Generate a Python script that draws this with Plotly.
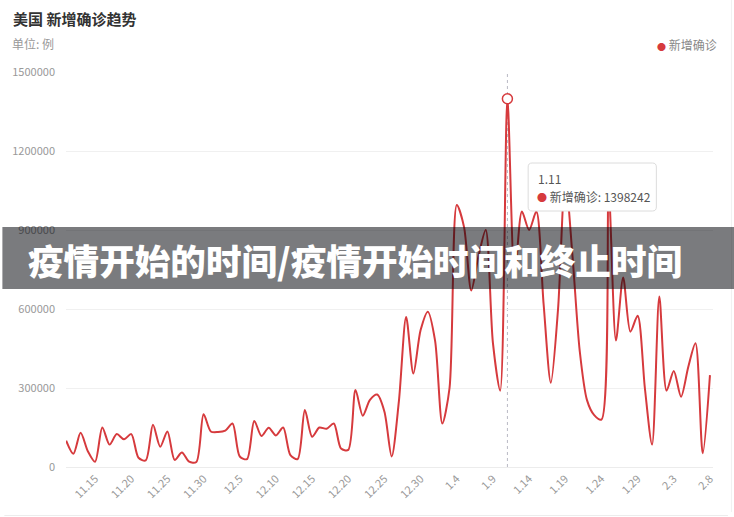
import pandas as pd
import plotly.graph_objects as go

# ---- data ----
dates = [f"{d.month}.{d.day}" for d in pd.date_range("2020-11-11", "2021-02-08", freq="D")]
new_cases = [
    100000, 50000, 130000, 60000, 20000, 150000, 85000, 125000, 105000, 125000,
    35000, 25000, 160000, 77000, 135000, 27000, 55000, 20000, 19000, 200000,
    135000, 133000, 138000, 165000, 40000, 30000, 175000, 118000, 149000, 120000,
    150000, 45000, 30000, 216000, 115000, 150000, 145000, 165000, 70000, 65000,
    292000, 195000, 255000, 275000, 210000, 40000, 250000, 570000, 355000, 520000,
    590000, 480000, 165000, 300000, 995000, 912000, 670000, 800000, 900000, 470000,
    290000, 1398242, 720000, 970000, 900000, 970000, 620000, 320000, 600000, 1100000,
    800000, 440000, 254000, 197000, 180000, 1050000, 480000, 720000, 514000, 574000,
    300000, 85000, 647000, 290000, 365000, 267000, 380000, 470000, 52000, 349000,
]
tick_labels = dates[4::5]
y_ticks = [0, 300000, 600000, 900000, 1200000, 1500000]
series_name = "新增确诊"
focus_idx = 61

RED = "#d63a3d"
FONT = "Noto Sans CJK SC, Noto Sans, sans-serif"

# pixel -> paper helpers (plot area: x 62..713, y 72..467)
L, R, T, B = 62, 713, 72, 467
def px(x):
    return (x - L) / (R - L)
def py(y):
    return (B - y) / (B - T)

fig = go.Figure()
fig.add_trace(go.Scatter(
    x=dates, y=new_cases, mode="lines", name=series_name,
    line=dict(color=RED, width=2, shape="spline", smoothing=0.8),
    cliponaxis=False, hoverinfo="skip",
))
fig.add_trace(go.Scatter(
    x=[dates[focus_idx]], y=[new_cases[focus_idx]], mode="markers",
    marker=dict(size=10, color="white", line=dict(color=RED, width=1.5)),
    cliponaxis=False, hoverinfo="skip",
))

shapes = []
# hover guide line (category index)
shapes.append(dict(type="line", xref="x", yref="paper", x0=focus_idx, x1=focus_idx,
                   y0=0, y1=1, line=dict(color="#b9b9c4", width=1, dash="dot"), layer="below"))

# faint card edges (bottom / right)
shapes.append(dict(type="line", xref="paper", yref="paper", x0=px(0), x1=px(728),
                   y0=py(515.5), y1=py(515.5), line=dict(color="#ececec", width=1)))
shapes.append(dict(type="line", xref="paper", yref="paper", x0=px(731.5), x1=px(731.5),
                   y0=py(0), y1=py(512), line=dict(color="#f0f0f0", width=1)))

# tooltip box (rounded)
x0, x1, y0, y1 = 527, 656, 163, 211
r = 4
def P(x, y):
    return f"{px(x):.5f},{py(y):.5f}"
path = (f"M{P(x0+r,y0)} L{P(x1-r,y0)} Q{P(x1,y0)} {P(x1,y0+r)} L{P(x1,y1-r)} "
        f"Q{P(x1,y1)} {P(x1-r,y1)} L{P(x0+r,y1)} Q{P(x0,y1)} {P(x0,y1-r)} "
        f"L{P(x0,y0+r)} Q{P(x0,y0)} {P(x0+r,y0)} Z")
shapes.append(dict(type="path", xref="paper", yref="paper", path=path,
                   fillcolor="white", line=dict(color="#dcdcdc", width=1), layer="above"))

# banner overlay
shapes.append(dict(type="rect", xref="paper", yref="paper",
                   x0=px(-2), x1=px(736), y0=py(289), y1=py(227),
                   fillcolor="rgba(0,2,8,0.52)", line=dict(width=0), layer="above"))

annotations = [
    dict(xref="paper", yref="paper", x=px(7), y=py(19), xanchor="left", yanchor="middle",
         text="<b>美国 新增确诊趋势</b>", showarrow=False,
         font=dict(family=FONT, size=15, color="#333333")),
    dict(xref="paper", yref="paper", x=px(6), y=py(43), xanchor="left", yanchor="middle",
         text="单位: 例", showarrow=False, font=dict(family=FONT, size=12, color="#999999")),
    dict(xref="paper", yref="paper", x=px(719), y=py(44), xanchor="right", yanchor="middle",
         text=f"<span style='color:{RED};font-size:9px'>●</span> {series_name}", showarrow=False,
         font=dict(family=FONT, size=12, color="#888888")),
    dict(xref="paper", yref="paper", x=px(535), y=py(178), xanchor="left", yanchor="middle",
         text=dates[focus_idx], showarrow=False, font=dict(family=FONT, size=12, color="#555555")),
    dict(xref="paper", yref="paper", x=px(534), y=py(196), xanchor="left", yanchor="middle",
         text=f"<span style='color:{RED};font-size:10px'>●</span> {series_name}: {new_cases[focus_idx]}",
         showarrow=False, font=dict(family=FONT, size=12, color="#555555")),
    dict(xref="paper", yref="paper", x=px(353), y=py(259), xanchor="center", yanchor="middle",
         text="疫情开始的时间/疫情开始时间和终止时间", showarrow=False,
         font=dict(family=FONT, size=35.6, color="white", weight=900)),
]

fig.update_layout(
    width=734, height=517,
    margin=dict(l=L, r=734 - R, t=T, b=517 - B),
    paper_bgcolor="white", plot_bgcolor="white",
    showlegend=False,
    shapes=shapes, annotations=annotations,
    font=dict(family=FONT),
    xaxis=dict(type="category", range=[-0.02, 89.42], tickmode="array",
               tickvals=tick_labels, ticktext=tick_labels, tickangle=-45,
               tickfont=dict(family=FONT, size=11, color="#999999"),
               showgrid=False, showline=True, linecolor="#ececec", linewidth=1,
               ticks="", zeroline=False),
    yaxis=dict(range=[0, 1500000], tickmode="array", tickvals=y_ticks,
               ticktext=[str(v) for v in y_ticks],
               tickfont=dict(family=FONT, size=11, color="#999999"),
               showgrid=True, gridcolor="#f0f0f0", gridwidth=1, zeroline=False,
               ticks="", ticklabelstandoff=10),
)

fig.write_html("out.html")
